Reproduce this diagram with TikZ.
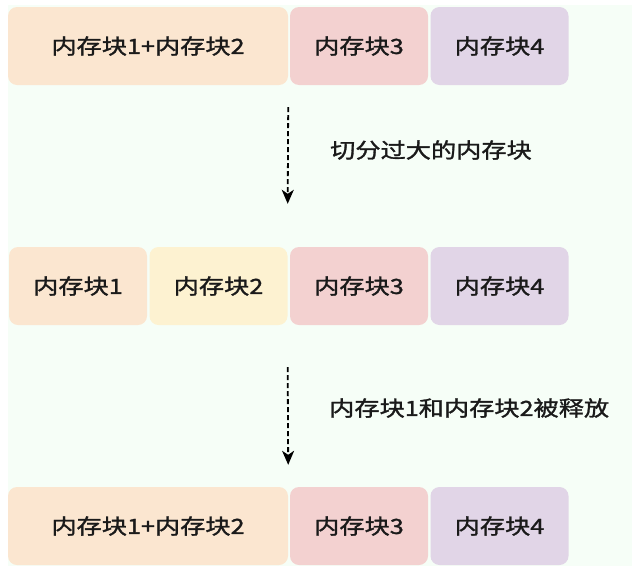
\documentclass[tikz,border=0pt]{standalone}
\usepackage{fontspec}
\newfontfamily\cjk[FakeStretch=1.2, FakeBold=1.4]{Noto Sans CJK SC}
\usetikzlibrary{arrows.meta}
\definecolor{bgc}{HTML}{F6FEF7}
\definecolor{peach}{HTML}{FBE6D0}
\definecolor{cream}{HTML}{FDF2D1}
\definecolor{rosy}{HTML}{F3D1D0}
\definecolor{lilac}{HTML}{E1D5E7}
\definecolor{ink}{HTML}{1A1A1A}
\begin{document}
\begin{tikzpicture}[x=1pt, y=-1pt,
    blk/.style={rounded corners=9pt, inner sep=0pt, minimum height=78pt,
      text=ink, font=\cjk\fontsize{21}{24}\selectfont},
    wide/.style={blk, minimum width=280pt},
    narrow/.style={blk, minimum width=138pt},
    arr/.style={dash pattern=on 5pt off 3pt, line width=1.8pt,
      -{Stealth[length=14pt, width=12pt, inset=4pt]}},
    lbl/.style={anchor=west, inner sep=0pt, text=ink,
      font=\cjk\fontsize{21}{24}\selectfont}]
  \useasboundingbox (0,0) rectangle (632,576);
  \fill[bgc] (8,5) rectangle (632,566);

  % first row
  \node[wide, fill=peach] (ra) at (148,46){内存块1+内存块2};
  \node[narrow, fill=rosy] (rb) at (359,46){内存块3};
  \node[narrow, fill=lilac] (rc) at (499.5,46){内存块4};

  % second row
  \node[narrow, fill=peach] (sa) at (78,286){内存块1};
  \node[narrow, fill=cream] (sb) at (218.5,286){内存块2};
  \node[narrow, fill=rosy] (sc) at (359,286){内存块3};
  \node[narrow, fill=lilac] (sd) at (499.5,286){内存块4};

  % third row
  \node[wide, fill=peach] (ta) at (148,526){内存块1+内存块2};
  \node[narrow, fill=rosy] (tb) at (359,526){内存块3};
  \node[narrow, fill=lilac] (tc) at (499.5,526){内存块4};

  \draw[arr] ([yshift=-22pt]ra.south east) -- ([yshift=43pt]sb.north east);
  \node[lbl] (split) at (330,150){切分过大的内存块};

  \draw[arr] ([yshift=-42pt]sb.south east) -- ([yshift=22pt]ta.north east);
  \node[lbl] (free) at (329,408){内存块1和内存块2被释放};
\end{tikzpicture}
\end{document}
